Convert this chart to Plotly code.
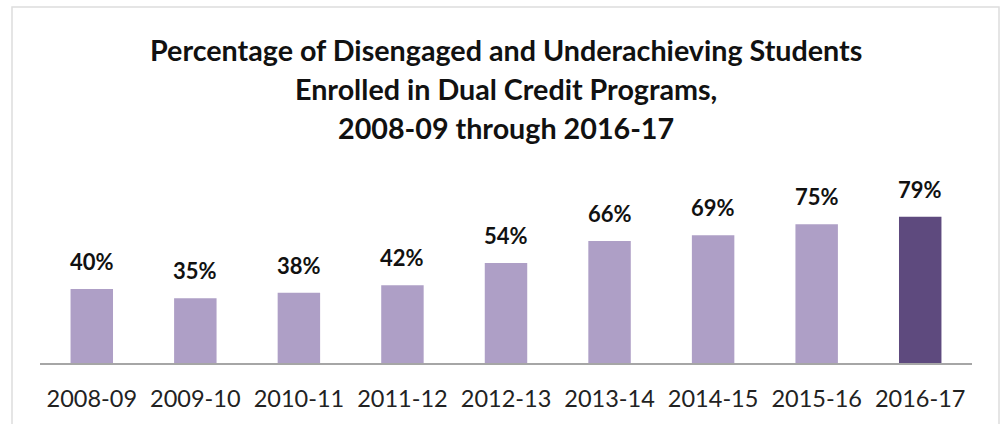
import plotly.graph_objects as go

years = ["2008-09", "2009-10", "2010-11", "2011-12", "2012-13",
         "2013-14", "2014-15", "2015-16", "2016-17"]
values = [40, 35, 38, 42, 54, 66, 69, 75, 79]
labels = ["40%", "35%", "38%", "42%", "54%", "66%", "69%", "75%", "79%"]
title_lines = ["Percentage of Disengaged and Underachieving Students",
               "Enrolled in Dual Credit Programs,",
               "2008-09 through 2016-17"]

light = "#AE9FC6"
dark = "#5E4A7E"
colors = [light] * (len(values) - 1) + [dark]

fig = go.Figure(go.Bar(
    x=years, y=values,
    marker=dict(color=colors, line=dict(width=0)),
    cliponaxis=False, width=0.41, hoverinfo="x+y",
))

W, H = 1006, 424
ml, mr = 40, W - 972
mt, mb = 178, H - 363
ph = H - mt - mb
pw = W - ml - mr

for yr, v, lab in zip(years, values, labels):
    fig.add_annotation(x=yr, y=v, text="<b>" + lab + "</b>", showarrow=False,
                       xanchor="center", yanchor="bottom", yshift=12,
                       font=dict(family="Lato", size=22, color="#111111"))

fig.update_layout(
    width=W, height=H,
    margin=dict(l=ml, r=mr, t=mt, b=mb),
    paper_bgcolor="white", plot_bgcolor="white",
    showlegend=False,
    xaxis=dict(type="category", showline=True, linecolor="#A6A6A6", linewidth=2,
               ticks="outside", ticklen=14, tickcolor="rgba(0,0,0,0)",
               tickfont=dict(family="Lato", size=23.5, color="#222222"),
               showgrid=False, zeroline=False),
    yaxis=dict(range=[0, 100], visible=False, showgrid=False, zeroline=False),
)

ys = [50, 89, 128]
for line, py in zip(title_lines, ys):
    fig.add_annotation(text="<b>" + line + "</b>", xref="paper", yref="paper",
                       x=0.5, y=(H - mb - py) / ph, xanchor="center", yanchor="middle",
                       showarrow=False, font=dict(family="Lato", size=28.7, color="#111111"))

fig.add_shape(type="rect", xref="paper", yref="paper",
              x0=(12 - ml) / pw, x1=(999 - ml) / pw,
              y0=(H - mb - 440) / ph, y1=(H - mb - 7) / ph,
              line=dict(color="#DDDDDD", width=1.5), fillcolor="rgba(0,0,0,0)", layer="below")

fig.write_html("out.html", config={"displayModeBar": False},
               post_script="document.body.style.margin='0px';document.body.style.overflow='hidden';")
